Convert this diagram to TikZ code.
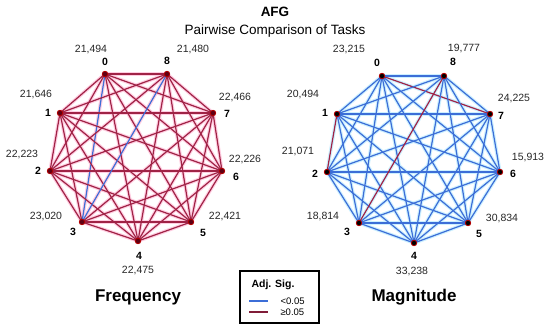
\documentclass[tikz,border=0pt]{standalone}
\usepackage{fontspec}
\setmainfont{Liberation Sans}
\definecolor{sigred}{RGB}{160,35,70}
\definecolor{sigblue}{RGB}{60,110,215}
\definecolor{halopink}{RGB}{255,205,225}
\definecolor{haloblue}{RGB}{205,240,255}
\definecolor{dotred}{RGB}{95,0,20}
\begin{document}
\begin{tikzpicture}[x=1pt,y=-1pt,
  dot/.style={circle,inner sep=0pt,minimum size=5.5pt,fill=#1,draw=red!70!black,line width=0.8pt},
  edge/.style={line width=1.2pt,draw=#1},
  halo/.style={line width=3.5pt,draw=#1,line cap=round},
  num/.style={font=\fontsize{10.5}{12}\selectfont,text=black!85},
  idx/.style={font=\bfseries\fontsize{10.5}{12}\selectfont},
  legline/.style={line width=1.3pt,draw=#1}]
\useasboundingbox (0,0) rectangle (550,332);
% titles
\node (title) at (275,12) {\bfseries\fontsize{13.5}{16}\selectfont AFG};
\node (sub) at (275,31) {\fontsize{13.5}{15}\selectfont Pairwise Comparison of Tasks};
% node centres
\foreach \n/\x/\y in {0/105/74, 8/167/74, 1/60/113, 7/213/113, 2/50/171, 6/222/171, 3/82/222, 5/191/222, 4/138/241}
  \coordinate (LC\n) at (\x,\y);
\foreach \n/\x/\y in {0/382/76, 8/444/76, 1/337/114, 7/490/114, 2/327/172, 6/500/172, 3/359/223, 5/468/223, 4/414/243}
  \coordinate (RC\n) at (\x,\y);
% halos
\foreach \i in {0,...,7}{
  \pgfmathtruncatemacro\s{\i+1}
  \foreach \j in {\s,...,8}{
    \draw[halo=halopink] (LC\i) -- (LC\j);
    \draw[halo=haloblue] (RC\i) -- (RC\j);
  }}
% edges
\foreach \i in {0,...,7}{
  \pgfmathtruncatemacro\s{\i+1}
  \foreach \j in {\s,...,8}{
    \pgfmathtruncatemacro\lb{((\i==0)&&(\j==3))||((\i==3)&&(\j==8))}
    \pgfmathtruncatemacro\rr{((\i==0)&&(\j==7))||((\i==3)&&(\j==8))||((\i==1)&&(\j==2))}
    \ifnum\lb=1 \def\lcol{sigblue}\else\def\lcol{sigred}\fi
    \ifnum\rr=1 \def\rcol{sigred}\else\def\rcol{sigblue}\fi
    \draw[edge=\lcol] (LC\i) -- (LC\j);
    \draw[edge=\rcol] (RC\i) -- (RC\j);
  }}
% dots
\foreach \n in {0,...,8}{
  \node[dot=dotred] (L\n) at (LC\n) {};
  \node[dot=black] (R\n) at (RC\n) {};
}
% left labels
\node[idx] (li0) at (105,62) {0};
\node[num] (ln0) at (91,50) {21,494};
\node[idx] (li8) at (167,61) {8};
\node[num] (ln8) at (193,50) {21,480};
\node[idx] (li1) at (48,113) {1};
\node[num] (ln1) at (36,95) {21,646};
\node[idx] (li7) at (227,114) {7};
\node[num] (ln7) at (235,98) {22,466};
\node[idx] (li2) at (38,171) {2};
\node[num] (ln2) at (22,155) {22,223};
\node[idx] (li6) at (236,177) {6};
\node[num] (ln6) at (245,160) {22,226};
\node[idx] (li3) at (73,232) {3};
\node[num] (ln3) at (46,217) {23,020};
\node[idx] (li5) at (203,233) {5};
\node[num] (ln5) at (225,217) {22,421};
\node[idx] (li4) at (139,256) {4};
\node[num] (ln4) at (138,271) {22,475};
% right labels
\node[idx] (ri0) at (377,63) {0};
\node[num] (rn0) at (349,50) {23,215};
\node[idx] (ri8) at (453,62) {8};
\node[num] (rn8) at (464,49) {19,777};
\node[idx] (ri1) at (325,113) {1};
\node[num] (rn1) at (303,95) {20,494};
\node[idx] (ri7) at (501,116) {7};
\node[num] (rn7) at (514,99) {24,225};
\node[idx] (ri2) at (315,174) {2};
\node[num] (rn2) at (298,152) {21,071};
\node[idx] (ri6) at (513,174) {6};
\node[num] (rn6) at (528,158) {15,913};
\node[idx] (ri3) at (347,232) {3};
\node[num] (rn3) at (323,217) {18,814};
\node[idx] (ri5) at (479,234) {5};
\node[num] (rn5) at (502,219) {30,834};
\node[idx] (ri4) at (414,256) {4};
\node[num] (rn4) at (412,272) {33,238};
% captions
\node (capL) at (138,297) {\bfseries\fontsize{17}{19}\selectfont Frequency};
\node (capR) at (414,297) {\bfseries\fontsize{17}{19}\selectfont Magnitude};
% legend
\draw[line width=1.2pt] (240,271) rectangle (319,323);
\node (legt) at (273,285) {\bfseries\fontsize{10.5}{12}\selectfont Adj. Sig.};
\coordinate (lb1) at (249,301); \coordinate (lb2) at (268,301);
\coordinate (lr1) at (249,312); \coordinate (lr2) at (268,312);
\draw[legline=sigblue] (lb1) -- (lb2);
\draw[legline=sigred!80!black] (lr1) -- (lr2);
\node[anchor=west,font=\fontsize{9.5}{11}\selectfont] (legb) at (277,301) {<0.05};
\node[anchor=west,font=\fontsize{9.5}{11}\selectfont] (legr) at (277,312) {≥0.05};
\end{tikzpicture}
\end{document}
